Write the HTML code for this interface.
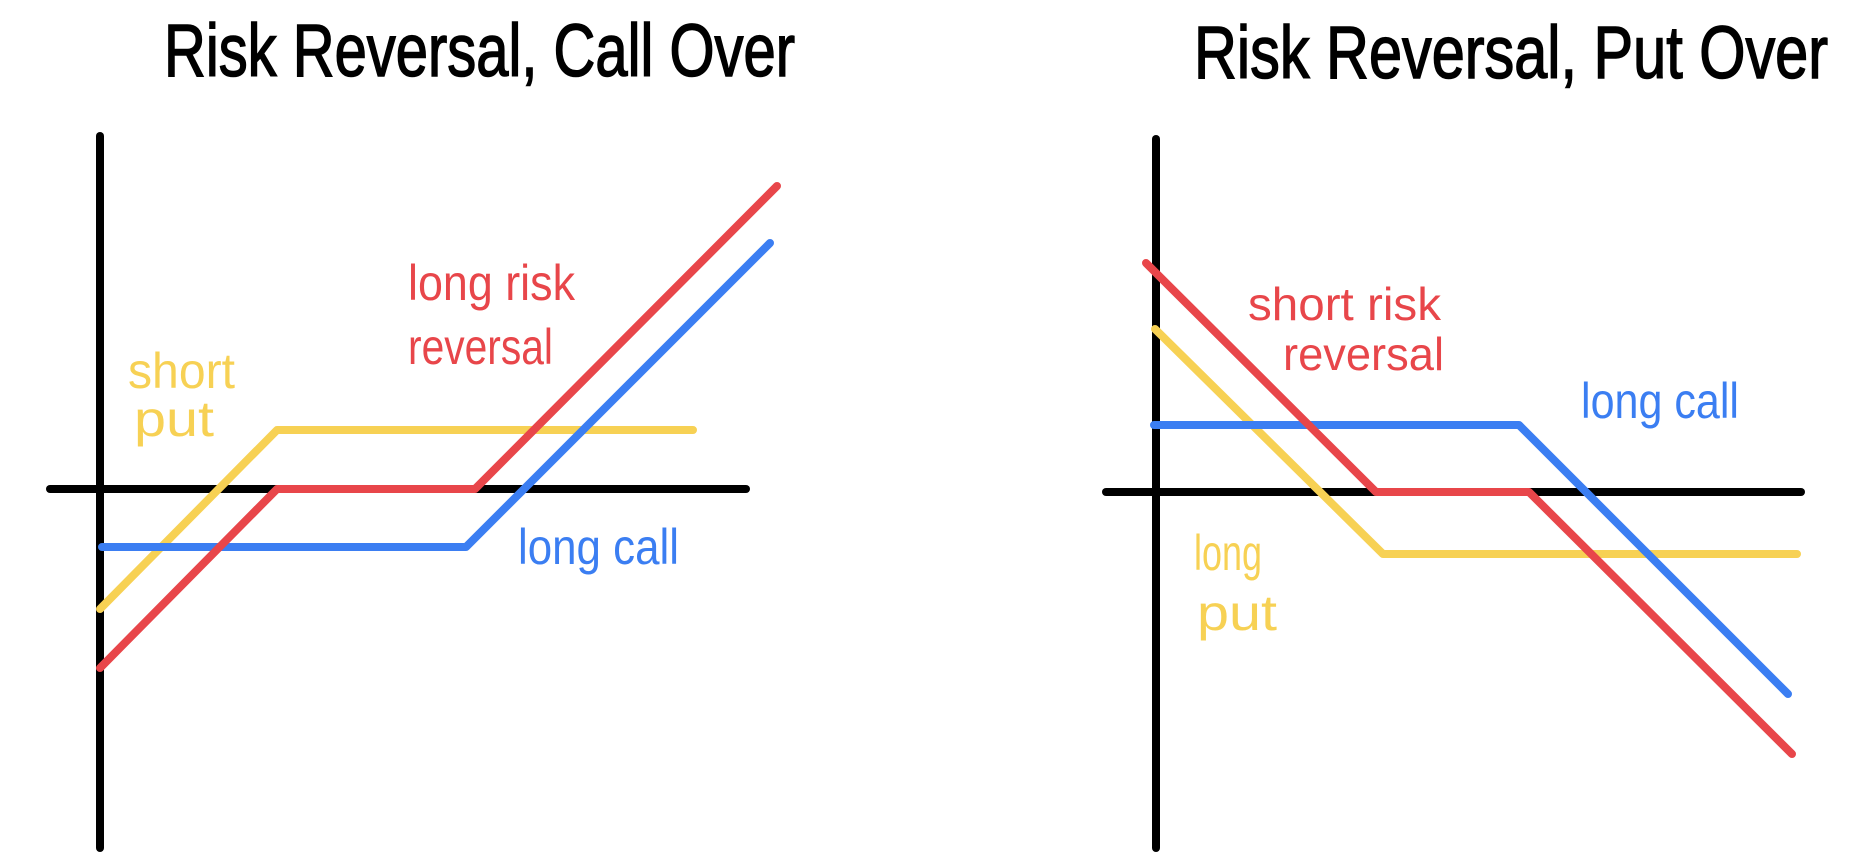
<!DOCTYPE html>
<html><head><meta charset="utf-8"><style>
html,body{margin:0;padding:0;background:#fff;}
svg{display:block;}
text{font-family:"Liberation Sans",sans-serif;}
</style></head><body>
<svg id="chart" width="1858" height="866" viewBox="0 0 1858 866">
<text x="164" y="76" font-size="74" textLength="631" lengthAdjust="spacingAndGlyphs" fill="#000" stroke="#000" stroke-width="1.5">Risk Reversal, Call Over</text>
<text x="1194" y="78" font-size="74" textLength="634" lengthAdjust="spacingAndGlyphs" fill="#000" stroke="#000" stroke-width="1.5">Risk Reversal, Put Over</text>
<g id="left"></g>
<g id="right"></g>
<text x="408" y="300" font-size="50" textLength="167" lengthAdjust="spacingAndGlyphs" fill="#e8464a">long risk</text>
<text x="408" y="364" font-size="50" textLength="145" lengthAdjust="spacingAndGlyphs" fill="#e8464a">reversal</text>
<text x="128" y="388" font-size="50" textLength="107" lengthAdjust="spacingAndGlyphs" fill="#f7d154">short</text>
<text x="134" y="436" font-size="50" textLength="80" lengthAdjust="spacingAndGlyphs" fill="#f7d154">put</text>
<text x="518" y="564" font-size="50" textLength="161" lengthAdjust="spacingAndGlyphs" fill="#3b7ef2">long call</text>
<text x="1248" y="320" font-size="46" textLength="193" lengthAdjust="spacingAndGlyphs" fill="#e8464a">short risk</text>
<text x="1283" y="370" font-size="46" textLength="161" lengthAdjust="spacingAndGlyphs" fill="#e8464a">reversal</text>
<text x="1581" y="418" font-size="50" textLength="158" lengthAdjust="spacingAndGlyphs" fill="#3b7ef2">long call</text>
<text x="1194" y="570" font-size="50" textLength="68" lengthAdjust="spacingAndGlyphs" fill="#f7d154">long</text>
<text x="1197" y="630" font-size="50" textLength="80" lengthAdjust="spacingAndGlyphs" fill="#f7d154">put</text>
</svg>
<script>
// Data in payoff units (x = underlying price units, y = payoff units; 1 unit = 20px)
const leftYellowX = [0, 8.85, 29.65];
const leftYellowY = [-6.0, 2.95, 2.95];
const leftRedX = [0, 8.85, 18.75, 33.85];
const leftRedY = [-8.95, 0, 0, 15.15];
const leftBlueX = [0.1, 18.3, 33.5];
const leftBlueY = [-2.9, -2.9, 12.3];
const rightRedX = [-0.5, 11.0, 18.65, 31.8];
const rightRedY = [11.45, 0, 0, -13.1];
const rightYellowX = [-0.05, 11.35, 32.05];
const rightYellowY = [8.15, -3.1, -3.1];
const rightBlueX = [-0.1, 18.15, 31.6];
const rightBlueY = [3.35, 3.35, -10.1];

const NS = 'http://www.w3.org/2000/svg';
const UNIT = 20;
function makeScales(ox, oy){
  return {x: v => ox + v*UNIT, y: v => oy - v*UNIT};
}
function axisLine(g, x1, y1, x2, y2){
  const l = document.createElementNS(NS,'line');
  l.setAttribute('x1',x1);l.setAttribute('y1',y1);l.setAttribute('x2',x2);l.setAttribute('y2',y2);
  l.setAttribute('stroke','#000');l.setAttribute('stroke-width','8');l.setAttribute('stroke-linecap','round');
  g.appendChild(l);
  return l;
}
function series(g, sc, xs, ys, color){
  const p = document.createElementNS(NS,'polyline');
  p.setAttribute('points', xs.map((v,i)=>sc.x(v)+','+sc.y(ys[i])).join(' '));
  p.setAttribute('fill','none');p.setAttribute('stroke',color);p.setAttribute('stroke-width','8');
  p.setAttribute('stroke-linecap','round');p.setAttribute('stroke-linejoin','round');
  g.appendChild(p);
  return p;
}
const L = document.getElementById('left'), R = document.getElementById('right');
const sl = makeScales(100, 489), sr = makeScales(1156, 492);
let a;
a = axisLine(L, 100, 136, 100, 848);


a = axisLine(L, 50, 489, 746, 489);


a = axisLine(R, 1156, 139, 1156, 848);


a = axisLine(R, 1106, 492, 1801, 492);


let s;
s = series(L, sl, leftYellowX, leftYellowY, '#f7d154');


s = series(L, sl, leftBlueX, leftBlueY, '#3b7ef2');


s = series(L, sl, leftRedX, leftRedY, '#e8464a');


s = series(R, sr, rightYellowX, rightYellowY, '#f7d154');


s = series(R, sr, rightBlueX, rightBlueY, '#3b7ef2');


s = series(R, sr, rightRedX, rightRedY, '#e8464a');


</script>
</body></html>
